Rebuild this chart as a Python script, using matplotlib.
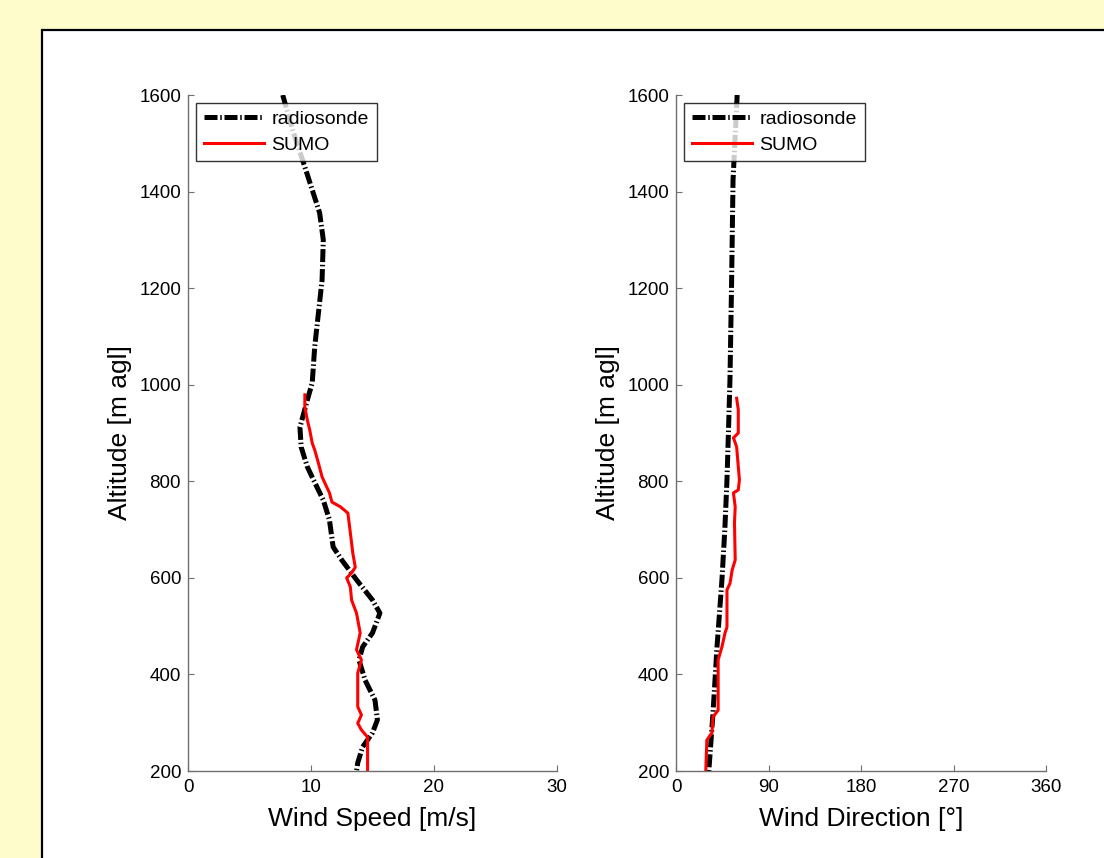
import numpy as np
import matplotlib
matplotlib.use('Agg')
import matplotlib.pyplot as plt
from matplotlib.patches import Rectangle

plt.rcParams['font.family'] = ['Liberation Sans', 'DejaVu Sans']

# radiosonde wind speed profile (m/s vs m agl)
sonde_alt = [1600, 1528, 1451, 1356, 1300, 1217, 1078, 1004, 968, 912, 871, 830, 803, 761, 720,
             664, 637, 596, 554, 527, 486, 457, 430, 388, 347, 306, 279, 250, 217, 200]
sonde_spd = [7.7, 8.5, 9.5, 10.7, 11.0, 10.9, 10.3, 10.1, 9.7, 9.1, 9.2, 9.7, 10.2, 11.0, 11.5,
             11.8, 12.5, 13.7, 15.0, 15.6, 15.0, 14.2, 13.9, 14.4, 15.2, 15.4, 15.0, 14.2, 13.8, 13.7]

# SUMO wind speed profile
sumo_alt = [979, 954, 927, 906, 879, 865, 838, 809, 776, 757, 747, 734, 693, 651, 622, 610, 600,
            581, 554, 527, 486, 451, 430, 403, 333, 316, 299, 285, 270, 208, 200]
sumo_spd = [9.5, 9.5, 9.7, 9.9, 10.1, 10.3, 10.6, 10.9, 11.5, 11.7, 12.4, 13.0, 13.2, 13.4, 13.6,
            13.3, 12.9, 13.2, 13.3, 13.7, 14.0, 13.7, 14.1, 13.8, 13.8, 14.1, 13.8, 14.1, 14.6,
            14.6, 14.6]

# radiosonde wind direction
sonde_dir_alt = [1600, 1590, 1424, 1200, 1010, 900, 803, 700, 596, 457, 320, 202, 200]
sonde_dir = [59.5, 59.3, 55.5, 54.0, 52.5, 51.0, 49.6, 47.5, 44.7, 39.9, 36.0, 32.0, 32.0]

# SUMO wind direction
sumo_dir_alt = [972, 948, 900, 890, 871, 803, 782, 776, 747, 714, 637, 616, 589, 575, 498, 486,
                457, 430, 326, 312, 279, 264, 202, 200]
sumo_dir = [59, 60.6, 60.6, 55.9, 59, 61.7, 60.6, 55.9, 57.6, 56.9, 57.6, 54.6, 52.6, 49.6, 49.6,
            47.7, 44.7, 41, 41, 36, 35, 30, 29, 29]

fig = plt.figure(figsize=(11.04, 8.58), dpi=100)
fig.patch.set_facecolor('#fffccc')
fig.add_artist(Rectangle((42 / 1104, -0.02), 1.1, (858 - 30) / 858 + 0.02,
                         transform=fig.transFigure, facecolor='white',
                         edgecolor='black', linewidth=1.6, zorder=0))

dashdot = (0, (2.6, 0.55, 0.3, 0.55))
gray = '#6f6f6f'


def style(ax, xlim, xticks, xlabel):
    ax.set_xlim(xlim)
    ax.set_ylim(200, 1600)
    ax.set_xticks(xticks)
    ax.set_yticks(range(200, 1601, 200))
    for s in ['top', 'right']:
        ax.spines[s].set_visible(False)
    for s in ['left', 'bottom']:
        ax.spines[s].set_color(gray)
        ax.spines[s].set_linewidth(1.0)
    ax.tick_params(direction='in', length=4, color=gray, labelsize=13.5,
                   labelcolor='black', pad=5)
    ax.tick_params(axis='x', pad=6)
    ax.set_xlabel(xlabel, fontsize=19, labelpad=8)
    ax.set_ylabel('Altitude [m agl]', fontsize=19, labelpad=5)
    leg = ax.legend(loc='upper left', fontsize=14, handlelength=3.1, frameon=True,
                    fancybox=False, edgecolor='black', borderaxespad=0.4,
                    borderpad=0.4, labelspacing=0.4, handletextpad=0.4)
    leg.get_frame().set_linewidth(1.0)


ax1 = fig.add_axes([188 / 1104, 87 / 858, 369 / 1104, 676 / 858])
ax1.plot(sonde_spd, sonde_alt, color='black', lw=3.6, linestyle=dashdot, label='radiosonde')
ax1.plot(sumo_spd, sumo_alt, color='red', lw=2.2, label='SUMO')
style(ax1, (0, 30), [0, 10, 20, 30], 'Wind Speed [m/s]')

ax2 = fig.add_axes([676 / 1104, 87 / 858, 370 / 1104, 676 / 858])
ax2.plot(sonde_dir, sonde_dir_alt, color='black', lw=3.6, linestyle=dashdot, label='radiosonde')
ax2.plot(sumo_dir, sumo_dir_alt, color='red', lw=2.2, label='SUMO')
style(ax2, (0, 360), [0, 90, 180, 270, 360], 'Wind Direction [°]')

fig.savefig('out.png', dpi=100, facecolor=fig.get_facecolor())
